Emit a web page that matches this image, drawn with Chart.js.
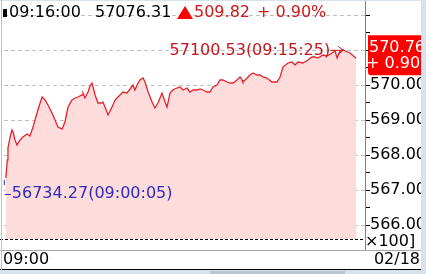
<!DOCTYPE html>
<html lang="en">
<head>
  <meta charset="UTF-8" />
  <title>intraday index</title>
  <script src="https://cdn.jsdelivr.net/npm/chart.js@4.4.0/dist/chart.umd.min.js"></script>
  <style>
    html, body { margin: 0; padding: 0; background: #fff; }
    #wrap { width: 426px; height: 274px; position: relative; }
  </style>
</head>
<body>
  <div id="wrap"><canvas id="myChart"></canvas></div>

  <script>
    // minutes after 09:00 and index value
    const times = [0.083, 0.15, 0.18, 0.27, 0.36, 0.41, 0.5, 0.59, 0.73, 0.86, 1.05, 1.18, 1.32, 1.5, 1.64, 1.73, 1.86, 2.0,
      2.18, 2.32, 2.45, 2.64, 2.77, 2.91, 3.09, 3.23, 3.36, 3.55, 3.59, 3.68, 3.82, 3.91, 4.0, 4.14, 4.27, 4.45, 4.5, 4.59,
      4.73, 4.91, 5.05, 5.18, 5.41, 5.59, 5.73, 5.86, 5.95, 6.05, 6.18, 6.32, 6.41, 6.55, 6.73, 6.86, 7.0, 7.18, 7.32, 7.41,
      7.55, 7.68, 7.86, 8.0, 8.14, 8.32, 8.45, 8.59, 8.77, 8.91, 9.05, 9.23, 9.36, 9.5, 9.68, 9.82, 9.95, 10.14, 10.27, 10.41,
      10.59, 10.73, 10.82, 10.86, 11.05, 11.18, 11.32, 11.5, 11.64, 11.77, 11.95, 12.18, 12.41, 12.55, 12.68, 12.91, 13.09,
      13.23, 13.36, 13.59, 13.82, 14.0, 14.14, 14.27, 14.5, 14.68, 14.91, 15.05, 15.14, 15.27, 15.42, 15.5, 15.73, 16.0];
    const values = [56734.27, 56785.7, 56820, 56848.6, 56871.4, 56865.7, 56842.9, 56828.6, 56842.9, 56851.4, 56860, 56854.3,
      56880, 56920, 56948.6, 56965.7, 56957.1, 56942.9, 56920, 56900, 56880, 56874.3, 56894.3, 56937.1, 56957.1, 56962.9,
      56965.7, 56971.4, 56977.1, 56962.9, 56980, 56997.1, 57005.7, 56971.4, 56948.6, 56948.6, 56951.4, 56937.1, 56914.3,
      56937.1, 56957.1, 56965.7, 56980, 56977.1, 56988.6, 57000, 56985.7, 57000, 57014.3, 57020, 57008.6, 56980, 56951.4,
      56934.3, 56948.6, 56977.1, 56951.4, 56937.1, 56977.1, 56985.7, 56991.4, 56994.3, 56985.7, 56991.4, 56980, 56985.7,
      56985.7, 56988.6, 56985.7, 56980, 56980, 56994.3, 57000, 57014.3, 57014.3, 57008.6, 57005.7, 57005.7, 57014.3, 57022.9,
      57014.3, 57008.6, 57020, 57028.6, 57034.3, 57028.6, 57028.6, 57022.9, 57020, 57008.6, 57008.6, 57022.9, 57051.4,
      57062.9, 57065.7, 57057.1, 57065.7, 57062.9, 57071.4, 57080, 57080, 57077.1, 57085.7, 57082.9, 57091.4, 57097.1,
      57077.1, 57097, 57100.53, 57097.1, 57091.4, 57076.31];

    const headerTime = '09:16:00';
    const headerPrice = '57076.31';
    const headerChange = '509.82';
    const headerRate = '+0.90%';
    const maxLabel = '57100.53(09:15:25)';
    const minLabel = '56734.27(09:00:05)';
    const boxPrice = '570.76';
    const startLabel = '09:00';
    const dateLabel = '02/18';

    const FONT = '16px "DejaVu Sans"';

    const extras = {
      id: 'extras',
      beforeDraw(chart) {
        const c = chart.ctx;
        c.save();
        c.fillStyle = '#fff';
        c.fillRect(0, 0, chart.width, chart.height);
        c.restore();
      },
      afterDraw(chart) {
        const c = chart.ctx;
        const xs = chart.scales.x, ys = chart.scales.y;
        const area = chart.chartArea;
        c.save();
        c.font = FONT;
        c.textBaseline = 'middle';

        // bottom dashed line of plot
        c.strokeStyle = '#000';
        c.lineWidth = 1;
        c.setLineDash([3, 2]);
        c.beginPath();
        c.moveTo(0, area.bottom + 0.5);
        c.lineTo(area.right, area.bottom + 0.5);
        c.stroke();
        c.setLineDash([]);

        // axis line extension
        c.strokeStyle = '#808080';
        c.beginPath();
        c.moveTo(area.right + 0.5, area.bottom);
        c.lineTo(area.right + 0.5, 250);
        c.stroke();

        // x100 label
        c.fillStyle = '#fff';
        c.fillRect(366, 233, 60, 17);
        c.fillStyle = '#000';
        c.textAlign = 'left';
        c.fillText('\u00d7100]', 365, 242);

        // max annotation
        let iMax = 0, iMin = 0;
        values.forEach((v, i) => {
          if (v > values[iMax]) iMax = i;
          if (v < values[iMin]) iMin = i;
        });
        const mx = xs.getPixelForValue(times[iMax]);
        const my = ys.getPixelForValue(values[iMax]);
        c.fillStyle = '#c4161c';
        c.strokeStyle = '#c4161c';
        c.textAlign = 'right';
        c.fillText(maxLabel, mx - 13, my + 1);
        c.beginPath();
        c.moveTo(mx - 13, my + 0.5);
        c.lineTo(mx, my + 0.5);
        c.moveTo(mx - 5, my - 3.5);
        c.lineTo(mx, my + 0.5);
        c.lineTo(mx - 5, my + 4.5);
        c.stroke();

        // min annotation
        const nx = xs.getPixelForValue(times[iMin]);
        const ny = ys.getPixelForValue(values[iMin]);
        c.fillStyle = '#2c2cc0';
        c.strokeStyle = '#2c2cc0';
        c.textAlign = 'left';
        c.fillText(minLabel, nx + 6, ny + 16);
        c.beginPath();
        c.moveTo(nx - 1, ny + 16.5);
        c.lineTo(nx + 5, ny + 16.5);
        c.moveTo(nx - 1.5, ny + 2);
        c.lineTo(nx - 1.5, ny + 7);
        c.stroke();

        // current price box
        const last = values.length - 1;
        const ly = ys.getPixelForValue(values[last]);
        c.fillStyle = '#ff0000';
        c.beginPath();
        c.moveTo(368, ly - 23);
        c.lineTo(426, ly - 23);
        c.lineTo(426, ly + 17);
        c.lineTo(371, ly + 17);
        c.quadraticCurveTo(368, ly + 17, 368, ly + 14);
        c.closePath();
        c.fill();
        c.fillStyle = '#fff';
        c.fillText(boxPrice, 369, ly - 10);
        c.fillText(headerRate.replace('+', '+ '), 366, ly + 6);

        // header
        c.fillStyle = '#000';
        c.fillRect(3, 9, 4, 8);
        c.fillText(headerTime, 9, 13);
        c.fillText(headerPrice, 95, 13);
        c.fillStyle = '#ff0000';
        c.beginPath();
        c.moveTo(185, 6);
        c.lineTo(193, 19);
        c.lineTo(177, 19);
        c.closePath();
        c.fill();
        c.fillStyle = '#d01818';
        c.fillText(headerChange, 194, 13);
        c.fillText(headerRate.replace('+', '+ '), 257, 13);

        // bottom time strip
        c.fillStyle = '#fff';
        c.fillRect(0, 250, 426, 20);
        c.strokeStyle = '#a8a8a8';
        c.beginPath();
        c.moveTo(0, 250.5);
        c.lineTo(426, 250.5);
        c.stroke();
        c.strokeStyle = '#000';
        c.beginPath();
        c.moveTo(0, 269.5);
        c.lineTo(426, 269.5);
        c.stroke();
        c.fillStyle = '#000';
        c.textAlign = 'left';
        c.fillText(startLabel, 3, 260);
        c.textAlign = 'right';
        c.fillText(dateLabel, 420, 260);

        // window frame
        c.fillStyle = '#d8e2ec';
        c.fillRect(0, 270, 426, 4);
        c.fillRect(421, 0, 5, 270);
        c.fillRect(0, 0, 426, 1);
        c.fillStyle = '#b8c4d0';
        c.fillRect(210, 271, 135, 3);
        c.fillStyle = '#c0c0c0';
        c.fillRect(1, 0, 1, 270);
        c.restore();
      }
    };

    const ctx = document.getElementById('myChart').getContext('2d');
    const myChart = new Chart(ctx, {
      type: 'line',
      data: {
        datasets: [{
          data: times.map((t, i) => ({ x: t, y: values[i] })),
          borderColor: '#e2242a',
          backgroundColor: '#ffdcdc',
          borderWidth: 1.3,
          fill: 'start',
          pointRadius: 0,
          tension: 0
        }]
      },
      options: {
        responsive: true,
        maintainAspectRatio: false,
        devicePixelRatio: 1,
        animation: false,
        layout: { padding: { left: 4, top: 0, right: 0, bottom: 35 } },
        plugins: { legend: { display: false }, tooltip: { enabled: false } },
        scales: {
          x: { type: 'linear', display: false, min: 0, max: 16.41 },
          y: {
            position: 'right',
            min: 56560,
            max: 57242.86,
            afterFit: s => {
              s.width = 61;
              s.paddingTop = 0;
              s.paddingBottom = 0;
            },
            border: { color: '#808080', width: 1, dash: [4, 3] },
            grid: {
              color: c => (c.tick && c.tick.value % 100 === 0) ? '#c0c0c0' : 'transparent',
              tickColor: '#000',
              tickLength: 5,
              lineWidth: 1
            },
            ticks: {
              stepSize: 50,
              includeBounds: false,
              autoSkip: false,
              maxTicksLimit: 100,
              padding: 0,
              color: '#000',
              font: { family: 'DejaVu Sans', size: 16 },
              callback: v => (v % 100 === 0 && v <= 57000) ? (v / 100).toFixed(2) : ''
            }
          }
        }
      },
      plugins: [extras]
    });
  </script>
</body>
</html>
